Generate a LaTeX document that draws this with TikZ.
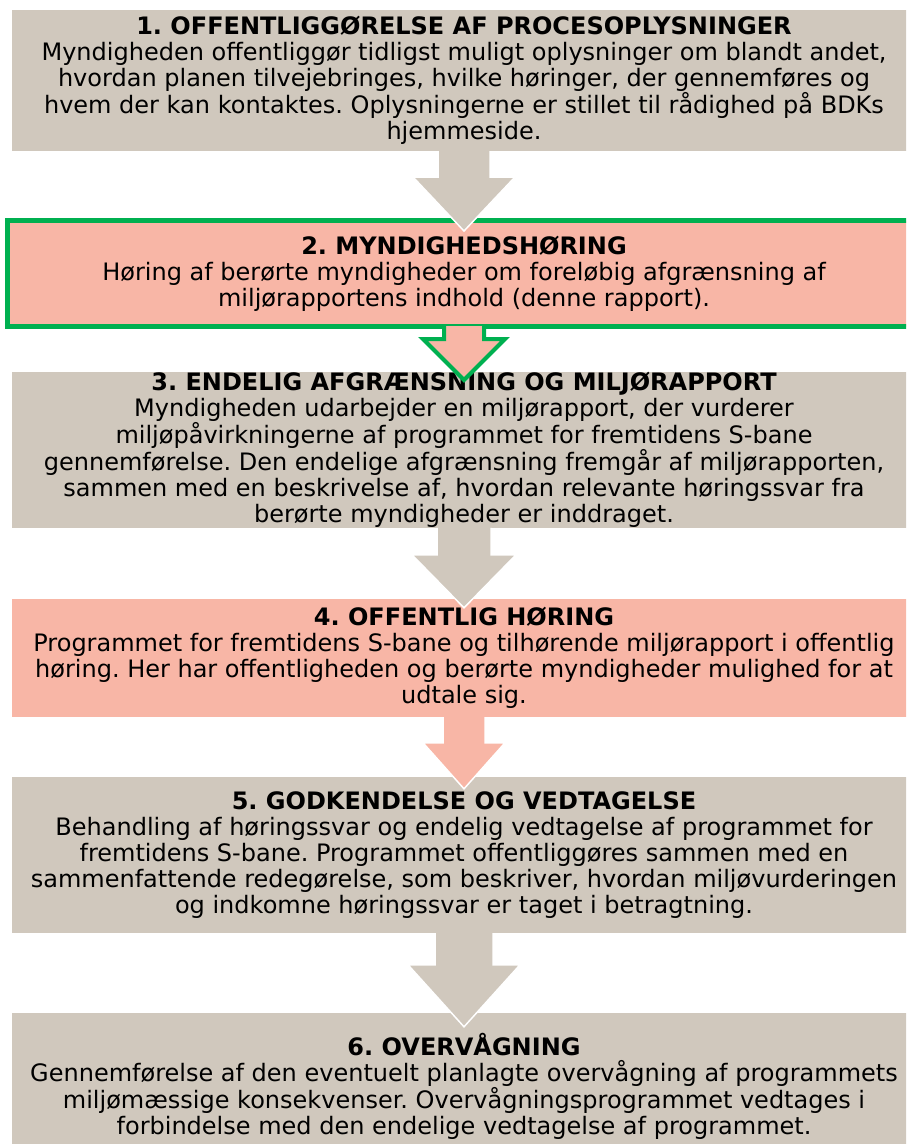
\documentclass[tikz,border=0pt]{standalone}
\usepackage{fontspec}
\setmainfont{DejaVu Sans}
\usepackage{xcolor}
\usetikzlibrary{calc}
\frenchspacing

\definecolor{sand}{RGB}{208,200,189}
\definecolor{laks}{RGB}{248,182,166}
\definecolor{groen}{RGB}{0,176,80}

% block arrow: style, from, to, shaft half, head half, head length, tip drop, start lift
\newcommand{\pil}[8]{%
  \path[#1] ($(#2.south)+(-#4,{-#8})$) -- ($(#3.north)+(-#4,{#7-#6})$) -- ($(#3.north)+(-#5,{#7-#6})$)
    -- ($(#3.north)+(0,#7)$) -- ($(#3.north)+(#5,{#7-#6})$) -- ($(#3.north)+(#4,{#7-#6})$) -- ($(#2.south)+(#4,{-#8})$);}

\begin{document}
\begin{tikzpicture}[x=1pt,y=-1pt,
    trin/.style={minimum width=904pt, inner sep=0pt, align=center, font=\fontsize{24}{26}\selectfont},
    graa/.style={trin, fill=sand},
    lyser/.style={trin, fill=laks},
    pilgraa/.style={fill=sand, draw=white, line width=1.5pt, line join=miter},
    pillaks/.style={fill=laks, draw=white, line width=1.5pt, line join=miter},
    pilgroen/.style={fill=laks, draw=groen, line width=4pt, line join=miter}]
    \useasboundingbox (0,0) rectangle (906,1144);
    \clip (0,0) rectangle (906,1144);

    % the six steps
    \node[graa, minimum height=141pt] (b1) at (464,80.5) {\textbf{1. OFFENTLIGGØRELSE AF PROCESOPLYSNINGER}\\
        Myndigheden offentliggør tidligst muligt oplysninger om blandt andet,\\
        hvordan planen tilvejebringes, hvilke høringer, der gennemføres og\\
        hvem der kan kontaktes. Oplysningerne er stillet til rådighed på BDKs\\
        hjemmeside.};
    \node[lyser, draw=groen, line width=5pt, minimum width=914pt, minimum height=106pt] (b2) at (464,273.5) {\textbf{2. MYNDIGHEDSHØRING}\\
        Høring af berørte myndigheder om foreløbig afgrænsning af\\
        miljørapportens indhold (denne rapport).};
    \node[graa, minimum height=150pt] (b3) at (464,450) {\textbf{3. ENDELIG AFGRÆNSNING OG MILJØRAPPORT}\\
        Myndigheden udarbejder en miljørapport, der vurderer\\
        miljøpåvirkningerne af programmet for fremtidens S-bane\\
        gennemførelse. Den endelige afgrænsning fremgår af miljørapporten,\\
        sammen med en beskrivelse af, hvordan relevante høringssvar fra\\
        berørte myndigheder er inddraget.};
    \node[lyser, minimum height=118pt] (b4) at (464,658) {\textbf{4. OFFENTLIG HØRING}\\
        Programmet for fremtidens S-bane og tilhørende miljørapport i offentlig\\
        høring. Her har offentligheden og berørte myndigheder mulighed for at\\
        udtale sig.};
    \node[graa, minimum height=156pt] (b5) at (464,855) {\textbf{5. GODKENDELSE OG VEDTAGELSE}\\
        Behandling af høringssvar og endelig vedtagelse af programmet for\\
        fremtidens S-bane. Programmet offentliggøres sammen med en\\
        sammenfattende redegørelse, som beskriver, hvordan miljøvurderingen\\
        og indkomne høringssvar er taget i betragtning.};
    \node[graa, minimum height=146pt] (b6) at (464,1086) {\textbf{6. OVERVÅGNING}\\
        Gennemførelse af den eventuelt planlagte overvågning af programmets\\
        miljømæssige konsekvenser. Overvågningsprogrammet vedtages i\\
        forbindelse med den endelige vedtagelse af programmet.};

    % arrows between the steps
    \pil{pilgraa}{b1}{b2}{26}{51}{54}{13}{0}
    \pil{pilgroen}{b2}{b3}{20}{41}{41}{8}{3}
    \pil{pilgraa}{b3}{b4}{27}{52}{53}{9}{0}
    \pil{pillaks}{b4}{b5}{21}{41}{46}{12}{0}
    \pil{pilgraa}{b5}{b6}{29}{56}{62}{14}{0}
\end{tikzpicture}
\end{document}
